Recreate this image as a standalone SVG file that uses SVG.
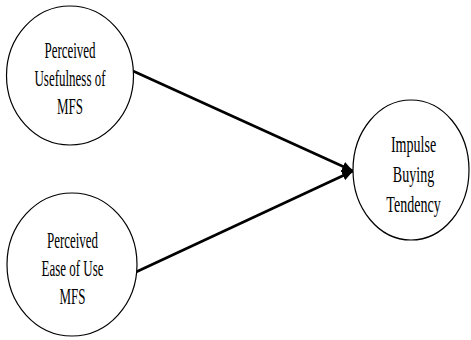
<svg xmlns="http://www.w3.org/2000/svg" width="471" height="340" viewBox="0 0 471 340">
<style>
.n{fill:#fff;stroke:#000;stroke-width:1.2}
.t{font-family:"Liberation Serif","Times New Roman",serif;font-size:23px;fill:#000;text-anchor:middle}
.r{font-size:24px}
.c{stroke:#000;stroke-width:2.6;fill:none}
</style>
<defs>
<marker id="ah" markerUnits="userSpaceOnUse" markerWidth="12" markerHeight="12" viewBox="0 0 12 12" refX="11" refY="6" orient="auto">
<path d="M0,1 L11,6 L0,11 Z" fill="#000"/>
</marker>
</defs>
<rect width="471" height="340" fill="#fff"/>
<g id="connectors">
<line class="c" x1="133" y1="71" x2="353" y2="171" marker-end="url(#ah)"/>
<line class="c" x1="136" y1="272" x2="353" y2="171" marker-end="url(#ah)"/>
</g>
<g id="pu">
<ellipse class="n" cx="70" cy="75.5" rx="63.5" ry="69.5"/>
<g transform="translate(70,0) scale(0.565,1)">
<text class="t" x="0" y="58">Perceived</text>
<text class="t" x="0" y="86">Usefulness of</text>
<text class="t" x="0" y="114">MFS</text>
</g>
</g>
<g id="peou">
<ellipse class="n" cx="72" cy="264.5" rx="65" ry="71.5"/>
<g transform="translate(72.5,0) scale(0.565,1)">
<text class="t" x="0" y="248">Perceived</text>
<text class="t" x="0" y="276">Ease of Use</text>
<text class="t" x="0" y="304">MFS</text>
</g>
</g>
<g id="ibt">
<ellipse class="n" cx="411" cy="170" rx="58" ry="70"/>
<g transform="translate(413.5,0) scale(0.585,1)">
<text class="t r" x="0" y="152">Impulse</text>
<text class="t r" x="0" y="182">Buying</text>
<text class="t r" x="0" y="212">Tendency</text>
</g>
</g>
</svg>
